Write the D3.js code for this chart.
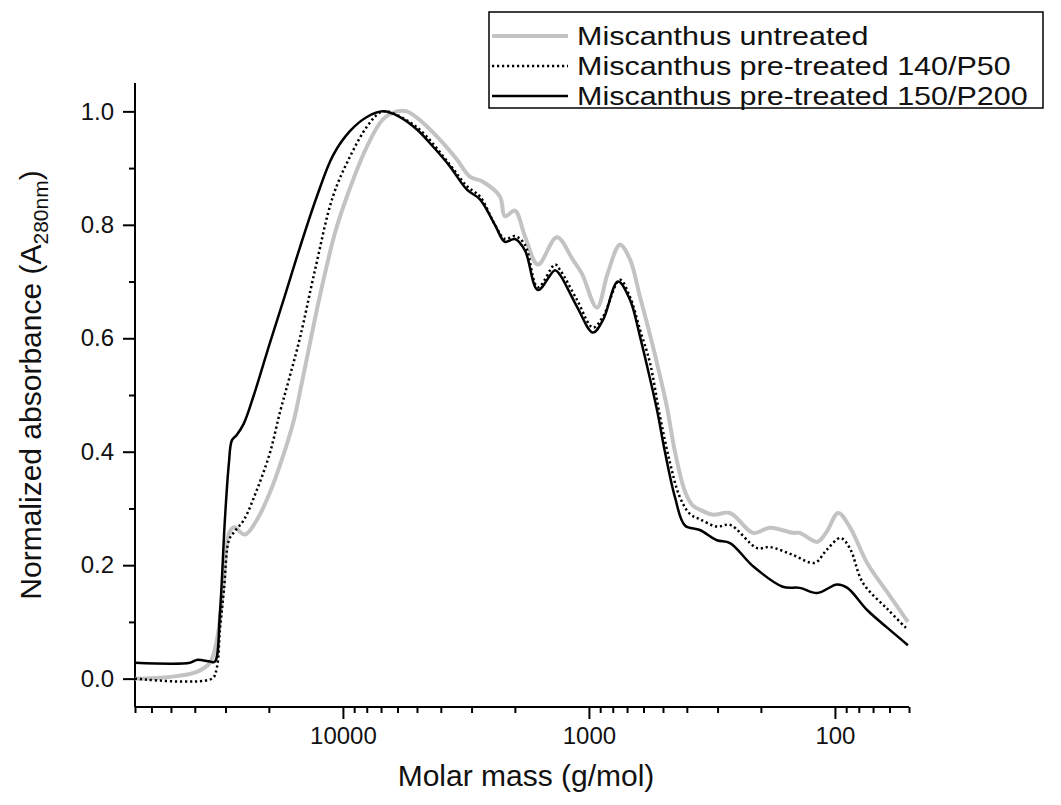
<!DOCTYPE html>
<html>
<head>
<meta charset="utf-8">
<script src="https://cdn.jsdelivr.net/npm/d3@7"></script>
<style>
  html, body { margin: 0; padding: 0; background: #fff; }
  svg { display: block; font-family: "Liberation Sans", Arial, sans-serif; }
</style>
</head>
<body>
<svg id="chart" width="1061" height="805"></svg>
<script>
// ---- data (molar mass in g/mol, normalized absorbance) ----
const seriesNames = ["Miscanthus untreated", "Miscanthus pre-treated 140/P50", "Miscanthus pre-treated 150/P200"];

const untreatedMass = [70000, 50500, 39230, 34730, 32530, 30460, 29070, 27740, 25030, 22360, 19800, 17370, 15820, 14680, 12400, 10780, 9632, 7988, 6877, 6032, 5492, 4729, 4034, 3440, 3046, 2697, 2300, 2195, 1999, 1820, 1612, 1349, 1161, 1068, 928, 837, 748, 681, 620, 549, 482, 447, 407, 378, 354, 313, 267, 215, 184, 148, 139, 118, 108, 97, 87, 74, 61, 50.5];
const untreatedAbs = [0, 0.003, 0.012, 0.028, 0.068, 0.173, 0.256, 0.267, 0.254, 0.28, 0.328, 0.397, 0.456, 0.522, 0.675, 0.785, 0.85, 0.938, 0.986, 1.0, 1.0, 0.98, 0.95, 0.915, 0.885, 0.876, 0.85, 0.815, 0.825, 0.78, 0.73, 0.778, 0.738, 0.714, 0.654, 0.716, 0.765, 0.739, 0.673, 0.585, 0.479, 0.40, 0.33, 0.305, 0.298, 0.289, 0.292, 0.257, 0.266, 0.257, 0.257, 0.241, 0.259, 0.292, 0.267, 0.204, 0.151, 0.100];

const p50Mass = [70000, 34080, 32530, 31620, 30460, 29070, 27740, 25260, 22360, 19800, 18040, 16580, 14960, 12990, 10980, 9365, 7988, 7072, 6625, 5002, 3673, 3132, 2773, 2410, 2195, 1999, 1820, 1612, 1374, 1312, 1119, 963, 877, 748, 681, 620, 565, 514, 468, 427, 388, 354, 302, 267, 207, 184, 148, 121, 108, 95, 87, 77, 61, 50.5];
const p50Abs = [0, 0, 0.02, 0.086, 0.156, 0.244, 0.258, 0.28, 0.333, 0.398, 0.469, 0.527, 0.60, 0.72, 0.85, 0.92, 0.973, 0.998, 1.0, 0.972, 0.906, 0.868, 0.85, 0.80, 0.775, 0.78, 0.765, 0.69, 0.73, 0.721, 0.668, 0.619, 0.638, 0.703, 0.673, 0.615, 0.557, 0.462, 0.38, 0.32, 0.29, 0.281, 0.268, 0.271, 0.23, 0.232, 0.218, 0.204, 0.227, 0.248, 0.23, 0.169, 0.122, 0.086];

const p200Mass = [70000, 41880, 39230, 34730, 33140, 31620, 30180, 29070, 28270, 26970, 25260, 23010, 19800, 17210, 14960, 12760, 10980, 9365, 7988, 6877, 5865, 5002, 4306, 3673, 3132, 2773, 2410, 2195, 1999, 1820, 1612, 1374, 1312, 1119, 963, 877, 762, 681, 620, 576, 529, 491, 447, 407, 354, 302, 267, 215, 163, 139, 118, 98, 89, 74, 61, 50.5];
const p200Abs = [0.028, 0.028, 0.033, 0.03, 0.03, 0.116, 0.28, 0.38, 0.42, 0.43, 0.45, 0.50, 0.592, 0.675, 0.76, 0.85, 0.922, 0.965, 0.99, 1.0, 0.99, 0.968, 0.938, 0.903, 0.862, 0.845, 0.80, 0.77, 0.775, 0.755, 0.685, 0.72, 0.712, 0.656, 0.61, 0.632, 0.70, 0.668, 0.603, 0.545, 0.474, 0.40, 0.32, 0.27, 0.262, 0.244, 0.239, 0.198, 0.162, 0.16, 0.151, 0.166, 0.16, 0.121, 0.089, 0.059];

const xTickValues = [10000, 1000, 100];
const yTickValues = [0, 0.2, 0.4, 0.6, 0.8, 1.0];
const yMinorValues = [0.1, 0.3, 0.5, 0.7, 0.9];

// ---- layout ----
const svg = d3.select("#chart");
const mLeft = 135, mRight = 909, mTop = 83, mBottom = 707;

const x = d3.scaleLog().domain([70000, 50]).range([mLeft, mRight]);
const y = d3.scaleLinear().domain([-0.05, 1.05]).range([mBottom, mTop]);

const xMinor = [];
[10, 100, 1000, 10000].forEach(dec => {
  for (let k = 2; k <= 9; k++) {
    const v = dec * k;
    if (v >= 50 && v <= 70000 && !xTickValues.includes(v)) xMinor.push(v);
  }
});

// ---- axes ----
const xAxis = d3.axisBottom(x).tickValues(xTickValues).tickFormat(d3.format("d")).tickSize(12).tickPadding(8);
const xAxisMinor = d3.axisBottom(x).tickValues(xMinor).tickFormat("").tickSize(6);
const yAxis = d3.axisLeft(y).tickValues(yTickValues).tickFormat(d3.format(".1f")).tickSize(12).tickPadding(9);
const yAxisMinor = d3.axisLeft(y).tickValues(yMinorValues).tickFormat("").tickSize(6);

function styleAxis(g) {
  g.select(".domain").attr("stroke", "#000").attr("stroke-width", 2);
  g.selectAll(".tick line").attr("stroke", "#000").attr("stroke-width", 2);
  g.selectAll(".tick text").attr("fill", "#111").style("font-size", "24px").style("font-family", "'Liberation Sans', Arial, sans-serif");
}

const gx = svg.append("g").attr("transform", `translate(0,${mBottom})`).call(xAxis).call(styleAxis);
gx.select(".domain").attr("d", `M${mLeft},0H${mRight}`);
svg.append("g").attr("transform", `translate(0,${mBottom})`).call(xAxisMinor).call(styleAxis).select(".domain").remove();

const gy = svg.append("g").attr("transform", `translate(${mLeft},0)`).call(yAxis).call(styleAxis);
gy.select(".domain").attr("d", `M0,${mTop}V${mBottom}`);
svg.append("g").attr("transform", `translate(${mLeft},0)`).call(yAxisMinor).call(styleAxis).select(".domain").remove();

// ---- axis titles ----
svg.append("text")
  .attr("x", (mLeft + mRight) / 2 + 4).attr("y", 786)
  .attr("text-anchor", "middle")
  .style("font-size", "30px").attr("fill", "#111")
  .text("Molar mass (g/mol)");

const yt = svg.append("text")
  .attr("transform", `translate(41,${(mTop + mBottom) / 2 - 10}) rotate(-90)`)
  .attr("text-anchor", "middle")
  .style("font-size", "30px").attr("fill", "#111");
yt.append("tspan").text("Normalized absorbance (A");
yt.append("tspan").attr("dy", 7).style("font-size", "21px").text("280nm");
yt.append("tspan").attr("dy", -7).text(")");

// ---- lines ----
const series = [
  { name: seriesNames[0], mass: untreatedMass, abs: untreatedAbs, color: "#c3c3c3", width: 4, dash: null },
  { name: seriesNames[1], mass: p50Mass, abs: p50Abs, color: "#000", width: 2.5, dash: "2.2,2.8" },
  { name: seriesNames[2], mass: p200Mass, abs: p200Abs, color: "#000", width: 2.5, dash: null }
];

const line = d3.line().x(d => x(d[0])).y(d => y(d[1])).curve(d3.curveCatmullRom.alpha(0.5));

series.forEach(s => {
  const pts = s.mass.map((m, i) => [m, s.abs[i]]);
  svg.append("path")
    .datum(pts)
    .attr("d", line)
    .attr("fill", "none")
    .attr("stroke", s.color)
    .attr("stroke-width", s.width)
    .attr("stroke-linejoin", "round")
    .attr("stroke-dasharray", s.dash);
});

// ---- legend ----
const lg = svg.append("g");
lg.append("rect").attr("x", 489).attr("y", 12).attr("width", 554).attr("height", 96)
  .attr("fill", "#fff").attr("stroke", "#000").attr("stroke-width", 1.5);
series.forEach((s, i) => {
  const cy = 36 + i * 30;
  lg.append("line").attr("x1", 492).attr("x2", 568).attr("y1", cy).attr("y2", cy)
    .attr("stroke", s.color).attr("stroke-width", s.width).attr("stroke-dasharray", s.dash);
  const t = lg.append("text").attr("x", 577).attr("y", cy + 9)
    .style("font-size", "26.5px").attr("fill", "#111").text(s.name);
  const w = t.node().getComputedTextLength();
  t.attr("textLength", w * 1.15).attr("lengthAdjust", "spacingAndGlyphs");
});
</script>
</body>
</html>
